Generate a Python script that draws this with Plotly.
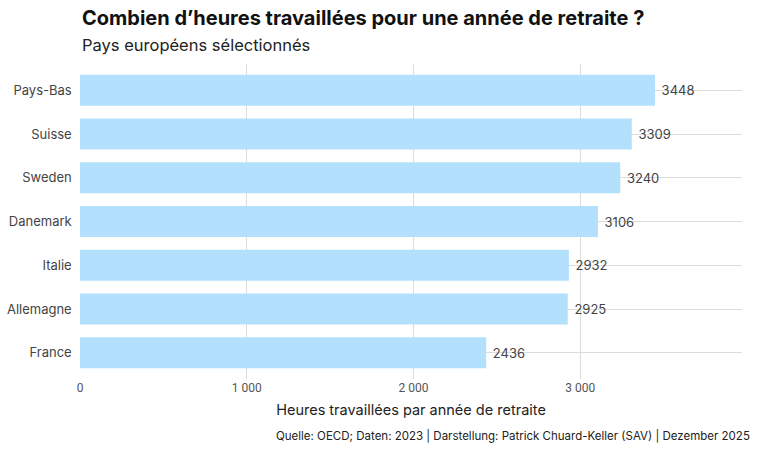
import plotly.graph_objects as go

countries = ["France", "Allemagne", "Italie", "Danemark", "Sweden", "Suisse", "Pays-Bas"]
hours = [2436, 2925, 2932, 3106, 3240, 3309, 3448]
x_ticks = [0, 1000, 2000, 3000]

title = "Combien d’heures travaillées pour une année de retraite ?"
subtitle = "Pays européens sélectionnés"
x_title = "Heures travaillées par année de retraite"
caption = "Quelle: OECD; Daten: 2023 | Darstellung: Patrick Chuard-Keller (SAV) | Dezember 2025"

FONT = "Inter, Roboto, sans-serif"
FONT_NARROW = "Roboto, sans-serif"

fig = go.Figure(go.Bar(
    x=hours, y=countries, orientation="h",
    marker=dict(color="#b3e0fd", line=dict(width=0)),
    width=0.71,
    text=[str(v) for v in hours], texttemplate=" %{text}", textposition="outside",
    textfont=dict(color="#444444", size=13, family=FONT),
    cliponaxis=False, hoverinfo="skip",
))

fig.update_layout(
    width=761, height=453,
    margin=dict(l=80, r=19, t=64, b=74),
    plot_bgcolor="white", paper_bgcolor="white",
    separators=", ",
    font=dict(family=FONT, color="#444444"),
    showlegend=False,
    xaxis=dict(range=[0, 3970], tickvals=x_ticks, tickformat=",d",
               showgrid=True, gridcolor="#dcdcdc", gridwidth=1,
               zeroline=False, showline=False, ticks="", automargin=False,
               tickfont=dict(size=12, color="#555555", family=FONT_NARROW),
               title=dict(text=x_title, font=dict(size=14.5, color="#222222", family=FONT), standoff=10)),
    yaxis=dict(range=[-0.6, 6.6], showgrid=True, gridcolor="#dcdcdc", gridwidth=1,
               zeroline=False, showline=False, ticks="", ticksuffix="  ", automargin=False,
               tickfont=dict(size=13, color="#444444", family=FONT)),
    annotations=[
        dict(text="<b>" + title + "</b>", xref="paper", yref="paper", x=0.0, y=1.0,
             yshift=46, xanchor="left", yanchor="middle", showarrow=False,
             font=dict(size=20, color="#111111", family=FONT)),
        dict(text=subtitle, xref="paper", yref="paper", x=0.0, y=1.0,
             yshift=19, xanchor="left", yanchor="middle", showarrow=False,
             font=dict(size=16.5, color="#222222", family=FONT)),
        dict(text=caption, xref="paper", yref="paper", x=1.0, y=0.0,
             xshift=10, yshift=-57, xanchor="right", yanchor="middle", showarrow=False,
             font=dict(size=11.5, color="#222222", family=FONT)),
    ],
)

fig.write_html("out.html", config={"displayModeBar": False},
               post_script="document.body.style.margin='0';document.body.style.padding='0';")
